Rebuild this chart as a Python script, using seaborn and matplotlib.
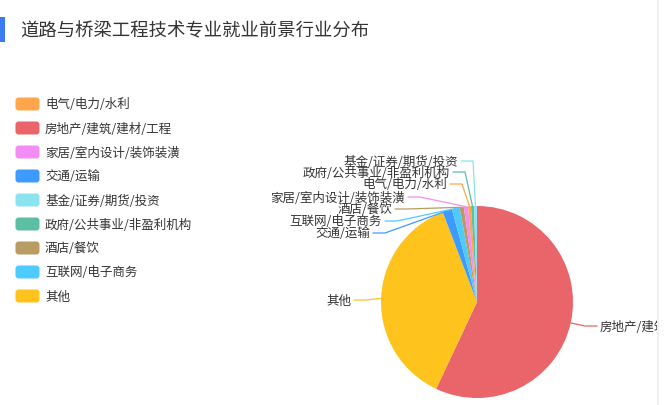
import matplotlib
matplotlib.use("Agg")
import matplotlib.pyplot as plt
import seaborn as sns
import numpy as np
from matplotlib.patches import FancyBboxPatch, Rectangle
from matplotlib.lines import Line2D

sns.set_theme(style="white")
plt.rcParams['font.family'] = ['Noto Sans CJK SC', 'DejaVu Sans']

title = "道路与桥梁工程技术专业就业前景行业分布"

# legend order
legend_names = ["电气/电力/水利", "房地产/建筑/建材/工程", "家居/室内设计/装饰装潢", "交通/运输",
                "基金/证券/期货/投资", "政府/公共事业/非盈利机构", "酒店/餐饮", "互联网/电子商务", "其他"]
legend_colors = ["#ffa64d", "#ea6569", "#f28ef3", "#3d9bff", "#8ae3ee", "#5cbfa4", "#b89c64", "#4dcbff", "#ffc31e"]

# pie order (clockwise from top)
pie_names = ["房地产/建筑/建材/工程", "其他", "交通/运输", "互联网/电子商务", "酒店/餐饮",
             "家居/室内设计/装饰装潢", "电气/电力/水利", "政府/公共事业/非盈利机构", "基金/证券/期货/投资"]
pie_values = [57.0, 37.2, 1.6, 1.3, 0.7, 0.7, 0.5, 0.5, 0.5]

# label layout (pixel coords, text anchor x, center y)
label_pos = {
    "房地产/建筑/建材/工程": (600, 327, "left"),
    "其他": (351, 301, "right"),
    "交通/运输": (370, 234, "right"),
    "互联网/电子商务": (382, 222, "right"),
    "酒店/餐饮": (392, 210, "right"),
    "家居/室内设计/装饰装潢": (405, 198, "right"),
    "电气/电力/水利": (447, 185, "right"),
    "政府/公共事业/非盈利机构": (450, 173, "right"),
    "基金/证券/期货/投资": (458, 162, "right"),
}

W, H = 664, 406
CW = 657
fig = plt.figure(figsize=(W / 100, H / 100), dpi=100)
ax = fig.add_axes([0, 0, CW / W, 1])
ax.set_xlim(0, CW)
ax.set_ylim(0, H)
ax.axis("off")

def Y(py):
    return H - py

cmap = dict(zip(legend_names, legend_colors))
pie_colors = [cmap[n] for n in pie_names]

cx, cy, R = 477, 303, 96
wedges, _ = ax.pie(pie_values, colors=pie_colors, startangle=90, counterclock=False,
                   center=(cx, Y(cy)), radius=R, frame=True,
                   wedgeprops=dict(linewidth=0))
ax.set_xlim(0, CW)
ax.set_ylim(0, H)
ax.set_aspect("equal")
ax.axis("off")

for w, name in zip(wedges, pie_names):
    mid = np.deg2rad((w.theta1 + w.theta2) / 2)
    ax_x = cx + R * np.cos(mid)
    ax_y = Y(cy) + R * np.sin(mid)
    tx, ty, ha = label_pos[name]
    ex = tx + 15 if ha == "right" else tx - 15
    ex_end = tx + 3 if ha == "right" else tx - 3
    ax.plot([ax_x, ex, ex_end], [ax_y, Y(ty), Y(ty)], color=w.get_facecolor(), lw=0.9,
            solid_capstyle="round", clip_on=True)
    ax.text(tx, Y(ty), name, ha=ha, va="center", fontsize=9, color="#333333", clip_on=True)

# title
ax.add_patch(Rectangle((0, Y(43)), 4.5, 25, color="#3a7bf5", lw=0))
ax.text(20, Y(31), title, ha="left", va="center", fontsize=13.2, color="#333333")

# legend
for i, (n, c) in enumerate(zip(legend_names, legend_colors)):
    yc = 105 + 24 * i
    ax.add_patch(FancyBboxPatch((15.5, Y(yc) - 6.5), 24, 13,
                                boxstyle="round,pad=0,rounding_size=3", fc=c, ec="none"))
    ax.text(45, Y(yc), n, ha="left", va="center", fontsize=9, color="#333333")

fig.add_artist(Line2D([(CW + 0.5) / W] * 2, [0, 1], color="#eeeeee", lw=1.2))

fig.savefig("out.png", dpi=100)
